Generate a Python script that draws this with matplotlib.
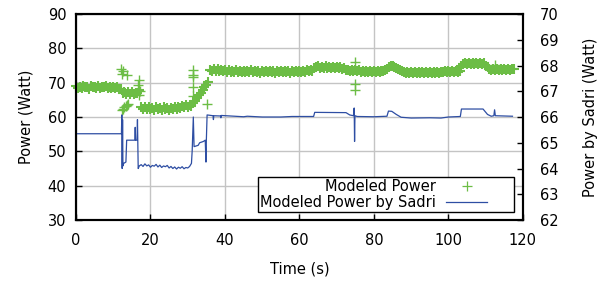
import numpy as np
import matplotlib
matplotlib.use("Agg")
import matplotlib.pyplot as plt

plt.rcParams.update({"font.family": "DejaVu Sans", "font.size": 10.5})

GREEN = "#6cbd45"
BLUE = "#2e4ea3"

## Modeled Power (left axis), one reading every 0.5 s
t_model = np.arange(0, 118, 0.5)
p_model = [
    68.9, 68.4, 68.8, 68.5, 69.0, 68.6, 68.8, 68.3, 68.9, 68.6,
    68.7, 68.4, 69.0, 68.5, 68.8, 68.6, 68.9, 68.4, 68.7, 68.5,
    68.8, 68.4, 68.6, 68.3, 68.2, 67.0, 67.4, 66.6, 67.2, 66.8,
    67.3, 66.7, 67.1, 66.9, 68.0, 62.8, 62.2, 63.0, 62.4, 62.9,
    62.3, 62.7, 62.0, 62.9, 62.4, 62.6, 62.1, 62.8, 62.3, 62.5,
    62.0, 62.7, 62.4, 62.9, 62.2, 62.8, 62.6, 63.2, 62.8, 63.6,
    63.0, 63.5, 63.3, 64.0, 64.8, 65.5, 66.3, 67.0, 67.8, 68.6,
    69.4, 70.2, 73.8, 73.4, 74.0, 73.5, 73.9, 73.3, 73.8, 73.4,
    73.6, 73.1, 73.7, 73.2, 73.5, 73.0, 73.6, 73.2, 73.4, 73.1,
    73.5, 73.0, 73.4, 73.1, 73.6, 73.0, 73.4, 73.2, 73.5, 72.9,
    73.3, 73.1, 73.5, 73.0, 73.4, 73.1, 73.3, 72.9, 73.4, 73.0,
    73.3, 73.0, 73.4, 73.1, 73.3, 72.9, 73.4, 73.1, 73.3, 73.0,
    73.4, 73.1, 73.5, 73.2, 73.6, 73.3, 73.6, 73.4, 74.3, 74.6,
    74.8, 74.4, 74.7, 74.3, 74.8, 74.4, 74.7, 74.3, 74.6, 74.3,
    74.6, 74.2, 74.5, 74.1, 74.2, 73.7, 73.8, 73.4, 73.6, 73.3,
    73.7, 73.3, 73.6, 73.2, 73.5, 73.1, 73.5, 73.2, 73.4, 73.1,
    73.4, 73.2, 73.5, 73.1, 73.5, 73.3, 73.6, 73.9, 74.5, 74.9,
    75.0, 74.6, 74.3, 73.9, 73.6, 73.3, 73.2, 72.9, 73.1, 72.8,
    73.1, 72.8, 73.2, 72.9, 73.1, 72.8, 73.2, 72.9, 73.1, 72.9,
    73.2, 72.9, 73.1, 72.8, 73.2, 72.9, 73.2, 73.0, 73.3, 73.0,
    73.3, 73.0, 73.4, 73.1, 73.3, 73.1, 73.5, 74.8, 75.4, 75.7,
    75.4, 75.8, 75.5, 75.7, 75.4, 75.8, 75.5, 75.7, 75.4, 75.6,
    75.0, 74.5, 74.0, 73.8, 74.1, 73.7, 74.0, 73.7, 74.1, 73.8,
    74.0, 73.7, 74.1, 73.8, 74.0, 73.9,
]

# isolated readings away from the main band
t_extra = [12.2, 12.3, 12.5, 13.8, 16.6, 16.9, 17.0, 17.2,
           12.4, 12.7, 13.0, 13.3, 13.6, 13.9,
           31.4, 31.4, 31.4, 31.5, 31.5, 35.3,
           74.9, 74.9, 75.0, 112.5]
p_extra = [73.9, 72.5, 73.5, 72.2, 69.3, 70.8, 66.5, 67.5,
           62.0, 62.4, 62.8, 63.2, 63.6, 63.9,
           73.7, 72.2, 71.6, 68.7, 66.0, 63.8,
           69.6, 68.0, 76.0, 75.2]

## Modeled Power by Sadri (right axis)
t_sadri = [0, 12.2, 12.3, 12.4, 12.5, 12.6, 12.8, 13.4, 13.6, 15.8, 15.9, 16.0,
           16.4, 16.5, 16.7, 17.0,
           17.5, 18.0, 18.5, 19.0, 19.5, 20.0, 20.5, 21.0, 21.5, 22.0, 22.5,
           23.0, 23.5, 24.0, 24.5, 25.0, 25.5, 26.0, 26.5, 27.0, 27.5, 28.0,
           28.5, 29.0, 29.5, 30.0, 30.5,
           31.0, 31.2, 31.5, 31.7, 32.8, 33.2, 34.2, 34.7, 34.9, 35.0, 35.2,
           36.8, 36.9, 37.0, 38.8, 38.9, 39.0, 45, 46, 50, 55, 58, 63.8, 64.1,
           72.5, 73.5, 74.5, 74.7, 74.8, 74.9, 75.5, 80, 83.5, 83.9, 84.8, 86,
           87.3, 90, 95, 98, 100, 103.2, 103.5, 109.3, 110.5, 111.5, 112.2,
           112.4, 112.6, 117.2]
p_sadri = [65.35, 65.35, 66.08, 64.0, 65.9, 64.1, 64.2, 64.25, 65.1, 65.1, 65.6, 65.1,
           65.1, 65.9, 64.0, 64.1,
           64.15, 64.08, 64.18, 64.10, 64.14, 64.05, 64.12, 64.09, 64.16, 64.06, 64.13,
           64.04, 64.10, 64.07, 64.12, 64.02, 64.08, 64.00, 64.06, 63.98, 64.05, 64.01,
           64.07, 63.99, 64.04, 64.02, 64.08,
           64.2, 64.7, 66.0, 64.85, 64.9, 65.0, 65.05, 65.1, 64.25, 65.1, 66.08,
           66.05, 65.9, 66.05, 66.04, 65.97, 66.06, 66.01, 66.03, 66.0, 66.0, 66.02, 66.02, 66.18,
           66.17, 66.08, 66.05, 66.35, 65.05, 66.05, 66.02, 66.01, 66.03, 66.23, 66.22, 66.1,
           65.99, 65.96, 65.97, 65.96, 66.0, 66.02, 66.31, 66.31, 66.1, 66.03, 66.05,
           66.28, 66.05, 66.03]

fig = plt.figure(figsize=(6.13, 2.83), dpi=100)
ax = fig.add_axes([0.124, 0.2226, 0.729, 0.7279])
ax2 = ax.twinx()

# dense band drawn a bit heavier, lone points with a thin cross
ax.plot(t_model, p_model, "+", color=GREEN, markersize=7.4, markeredgewidth=1.5,
        clip_on=False, label="Modeled Power", zorder=3)
ax.plot(t_extra, p_extra, "+", color=GREEN, markersize=7, markeredgewidth=1.0,
        clip_on=False, zorder=3)
line, = ax2.plot(t_sadri, p_sadri, color=BLUE, linewidth=0.9,
                 label="Modeled Power by Sadri")

ax.set_xlim(0, 120)
ax.set_ylim(30, 90)
ax2.set_ylim(62, 70)
ax.set_xticks(range(0, 121, 20))
ax.set_yticks(range(30, 91, 10))
ax2.set_yticks(range(62, 71, 1))

ax.grid(True, color="#c4c4c4", linewidth=1)
ax.set_axisbelow(True)
ax.tick_params(direction="in", length=4, width=1, pad=7)
ax.tick_params(axis="x", pad=9)
ax2.tick_params(direction="in", length=4, width=1, pad=12)
for a in (ax, ax2):
    for s in a.spines.values():
        s.set_linewidth(1.5)

ax.set_xlabel("Time (s)", labelpad=10)
ax.set_ylabel("Power (Watt)", labelpad=10)
ax2.set_ylabel("Power by Sadri (Watt)", labelpad=18)

h1, l1 = ax.get_legend_handles_labels()
# thin cross in the key, like the reference
key = plt.Line2D([], [], marker="+", linestyle="none", color=GREEN,
                 markersize=7, markeredgewidth=0.9)
leg = ax2.legend([key, line], [l1[0], line.get_label()], loc="lower left",
                 bbox_to_anchor=(0.407, 0.039, 0.573, 0.2), mode="expand",
                 markerfirst=False, fancybox=False, framealpha=1,
                 edgecolor="black", borderpad=0.15, labelspacing=0.05,
                 handlelength=2.8, handletextpad=0.7, borderaxespad=0)
leg.get_frame().set_linewidth(1)

fig.savefig("out.png", dpi=100)
